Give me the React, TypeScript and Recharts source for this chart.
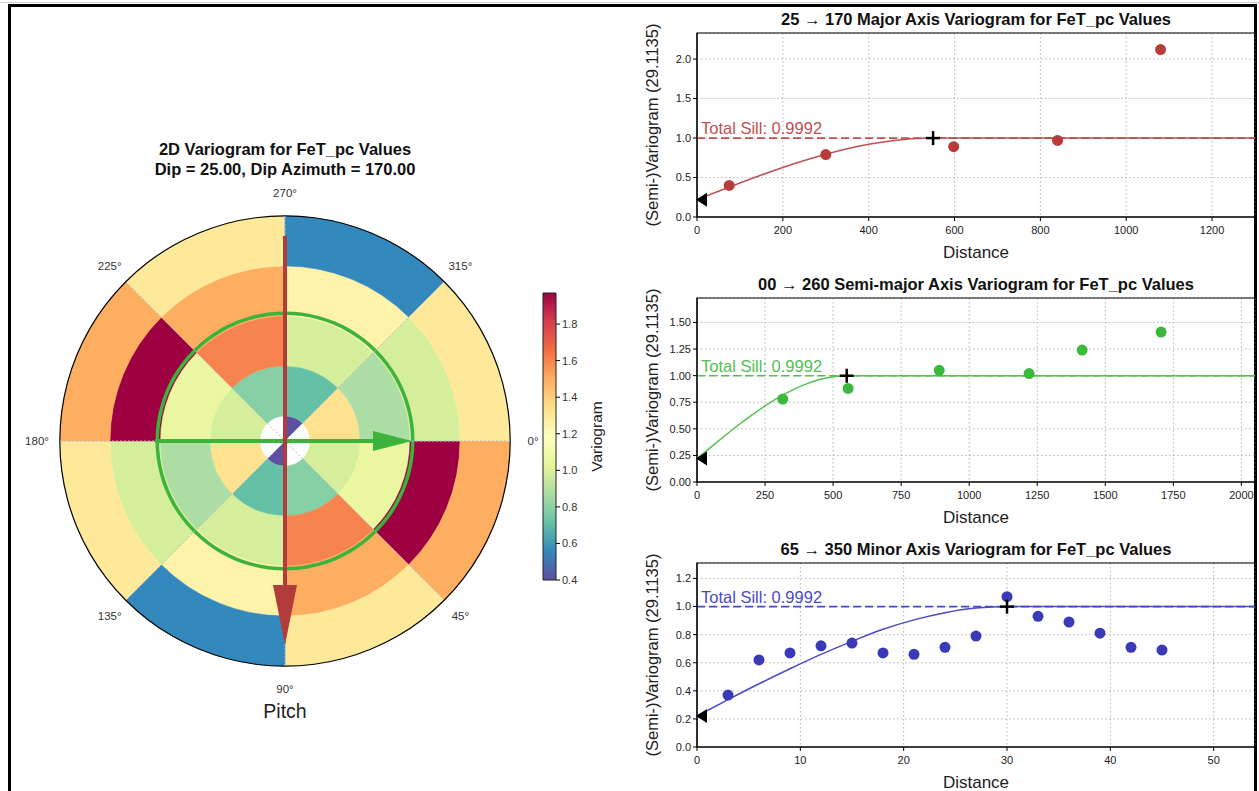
import React from "react";
import {
  CartesianGrid,
  Cell,
  ComposedChart,
  Line,
  Pie,
  PieChart,
  ReferenceArea,
  ReferenceLine,
  Scatter,
  XAxis,
  YAxis,
} from "recharts";

const FONT = "'Liberation Sans', Arial, sans-serif";

// ---- polar variogram map (sectors clockwise from 0deg, 45deg each, lag rings inner -> outer)
const angleLabels = ["0°", "45°", "90°", "135°", "180°", "225°", "270°", "315°"];
const ring1 = [NaN, NaN, 0.4, NaN, NaN, NaN, 0.4, NaN];
const ring2 = [0.98, 0.79, 0.71, 1.33, 0.98, 0.79, 0.71, 1.33];
const ring3 = [1.06, 1.6, 0.98, 0.87, 1.06, 1.6, 0.98, 0.87];
const ring4 = [1.97, 1.5, 1.25, 0.98, 1.97, 1.5, 1.25, 0.98];
const ring5 = [1.5, 1.3, 0.56, 1.3, 1.5, 1.3, 0.56, 1.3];
const rings = [ring1, ring2, ring3, ring4, ring5];

const colorbarTicks = [0.4, 0.6, 0.8, 1.0, 1.2, 1.4, 1.6, 1.8];
const VMIN = 0.4;
const VMAX = 1.97;

// search ellipse axes (lag units)
const majorShaft = [{ x: 0, y: 4.1 }, { x: 0, y: -3.2 }];
const majorTip = [{ x: 0, y: -4.08 }];
const semiShaft = [{ x: -2.6, y: 0 }, { x: 2.0, y: 0 }];
const semiTip = [{ x: 2.54, y: 0 }];

// ---- directional variograms
const SILL = 0.9992;

const majorLags = [75, 300, 598, 840, 1080];
const majorGamma = [0.4, 0.79, 0.89, 0.97, 2.12];
const majorModelH = [0, 50, 100, 150, 200, 250, 300, 350, 400, 450, 500, 550, 1300];
const majorModelG = [0.22, 0.326, 0.43, 0.531, 0.626, 0.715, 0.795, 0.864, 0.92, 0.963, 0.99, 1.0, 1.0];

const semiLags = [315, 555, 890, 1220, 1415, 1705];
const semiGamma = [0.78, 0.88, 1.05, 1.02, 1.24, 1.41];
const semiModelH = [0, 50, 100, 150, 200, 250, 300, 350, 400, 450, 500, 550, 2050];
const semiModelG = [0.22, 0.326, 0.43, 0.531, 0.626, 0.715, 0.795, 0.864, 0.92, 0.963, 0.99, 1.0, 1.0];

const minorLags = [3, 6, 9, 12, 15, 18, 21, 24, 27, 30, 33, 36, 39, 42, 45];
const minorGamma = [0.37, 0.62, 0.67, 0.72, 0.74, 0.67, 0.66, 0.71, 0.79, 1.07, 0.93, 0.89, 0.81, 0.71, 0.69];
const minorModelH = [0, 3, 6, 9, 12, 15, 18, 21, 24, 27, 30, 54];
const minorModelG = [0.22, 0.337, 0.45, 0.557, 0.659, 0.752, 0.838, 0.905, 0.956, 0.989, 1.0, 1.0];

const SPECTRAL_R = [
  "#5e4fa2", "#3288bd", "#66c2a5", "#abdda4", "#e6f598", "#ffffbf",
  "#fee08b", "#fdae61", "#f46d43", "#d53e4f", "#9e0142",
];

function hexToRgb(h: string) {
  const n = parseInt(h.slice(1), 16);
  return [(n >> 16) & 255, (n >> 8) & 255, n & 255];
}

function cmap(v: number) {
  if (!Number.isFinite(v)) return "#ffffff";
  let t = (v - VMIN) / (VMAX - VMIN);
  t = Math.max(0, Math.min(1, t));
  const s = t * (SPECTRAL_R.length - 1);
  const i = Math.min(Math.floor(s), SPECTRAL_R.length - 2);
  const f = s - i;
  const a = hexToRgb(SPECTRAL_R[i]);
  const b = hexToRgb(SPECTRAL_R[i + 1]);
  const c = a.map((x, k) => Math.round(x + (b[k] - x) * f));
  return `rgb(${c[0]},${c[1]},${c[2]})`;
}

const LAG_PX = 50;
const BOX = 540;
const LIM = BOX / 2 / LAG_PX;

const angleLabel = (p: any) => {
  const a = (-p.midAngle * Math.PI) / 180;
  const r = 248;
  return (
    <text
      x={p.cx + r * Math.cos(a)}
      y={p.cy + r * Math.sin(a)}
      textAnchor="middle"
      dominantBaseline="central"
      fontSize={11.5}
      fill="#333"
    >
      {p.name ?? p.payload?.name}
    </text>
  );
};

const downHead = (p: any) => (
  <polygon
    points={`${p.cx},${p.cy} ${p.cx - 12},${p.cy - 60} ${p.cx + 12},${p.cy - 60}`}
    fill="#b23b3b"
  />
);
const rightHead = (p: any) => (
  <polygon
    points={`${p.cx},${p.cy} ${p.cx - 39},${p.cy - 10} ${p.cx - 39},${p.cy + 10}`}
    fill="#3cb43c"
  />
);
const noShape = () => <g />;

function PolarPanel() {
  const sectors = (vals: number[]) => vals.map((v, i) => ({ name: angleLabels[i], value: 1, v }));
  const grid = [0, 45, 90, 135].map((deg) => {
    const a = (deg * Math.PI) / 180;
    return [
      { x: -4.5 * Math.cos(a), y: -4.5 * Math.sin(a) },
      { x: 4.5 * Math.cos(a), y: 4.5 * Math.sin(a) },
    ];
  });
  return (
    <>
      <div style={{ position: "absolute", left: 85, top: 139, width: 400, textAlign: "center", fontWeight: 700, fontSize: 16.5, lineHeight: "20px" }}>
        2D Variogram for FeT_pc Values
        <br />
        Dip = 25.00, Dip Azimuth = 170.00
      </div>
      <div style={{ position: "absolute", left: 15, top: 171, width: BOX, height: BOX }}>
        <PieChart width={BOX} height={BOX} margin={{ top: 0, right: 0, bottom: 0, left: 0 }}>
          {rings.map((ring, k) => (
            <Pie
              key={k}
              data={sectors(ring)}
              dataKey="value"
              cx={BOX / 2}
              cy={BOX / 2}
              innerRadius={k === 0 ? 0 : (k - 0.5) * LAG_PX}
              outerRadius={(k + 0.5) * LAG_PX}
              startAngle={0}
              endAngle={-360}
              isAnimationActive={false}
            >
              {ring.map((v, i) => (
                <Cell key={i} fill={cmap(v)} stroke={cmap(v)} strokeWidth={0.5} />
              ))}
            </Pie>
          ))}
          <Pie
            data={[{ value: 1 }]}
            dataKey="value"
            cx={BOX / 2}
            cy={BOX / 2}
            innerRadius={126}
            outerRadius={129.5}
            startAngle={0}
            endAngle={360}
            fill="#3cb43c"
            stroke="none"
            isAnimationActive={false}
          />
          <Pie
            data={[{ value: 1 }]}
            dataKey="value"
            cx={BOX / 2}
            cy={BOX / 2}
            innerRadius={224.6}
            outerRadius={225.8}
            startAngle={0}
            endAngle={360}
            fill="#000"
            stroke="none"
            isAnimationActive={false}
          />
          <Pie
            data={angleLabels.map((name) => ({ name, value: 1 }))}
            dataKey="value"
            cx={BOX / 2}
            cy={BOX / 2}
            innerRadius={225}
            outerRadius={225}
            startAngle={22.5}
            endAngle={-337.5}
            fill="none"
            stroke="none"
            label={angleLabel}
            labelLine={false}
            isAnimationActive={false}
          />
        </PieChart>
      </div>
      <div style={{ position: "absolute", left: 15, top: 171, width: BOX, height: BOX }}>
        <ComposedChart width={BOX} height={BOX} margin={{ top: 0, right: 0, bottom: 0, left: 0 }}>
          <XAxis type="number" dataKey="x" domain={[-LIM, LIM]} hide />
          <YAxis type="number" domain={[-LIM, LIM]} hide />
          {grid.map((seg, i) => (
            <ReferenceLine key={i} segment={seg} stroke="#b8b8c8" strokeDasharray="2 2" strokeWidth={1} />
          ))}
          <ReferenceLine segment={semiShaft} stroke="#3cb43c" strokeWidth={4} />
          <Scatter data={semiTip} dataKey="y" shape={rightHead} isAnimationActive={false} />
          <ReferenceLine segment={majorShaft} stroke="#b23b3b" strokeWidth={4} />
          <Scatter data={majorTip} dataKey="y" shape={downHead} isAnimationActive={false} />
        </ComposedChart>
      </div>
      <div style={{ position: "absolute", left: 185, top: 699, width: 200, textAlign: "center", fontSize: 19.5, lineHeight: "24px", color: "#222" }}>
        Pitch
      </div>
    </>
  );
}

function ColorBar() {
  return (
    <div style={{ position: "absolute", left: 530, top: 283, width: 100, height: 310 }}>
      <ComposedChart width={100} height={310} margin={{ top: 10, right: 14, bottom: 13, left: 13 }}>
        <XAxis type="number" dataKey="x" domain={[0, 1]} hide />
        <YAxis
          type="number"
          orientation="right"
          domain={[VMIN, VMAX]}
          ticks={colorbarTicks}
          interval={0}
          width={60}
          tickSize={4}
          stroke="#000"
          axisLine={false}
          tick={{ fontSize: 11, fill: "#333" }}
          tickFormatter={(v: number) => v.toFixed(1)}
          label={{ value: "Variogram", angle: -90, position: "insideRight", offset: 20, fontSize: 15.5, fill: "#222", style: { textAnchor: "middle" } }}
        />
        <Scatter data={[{ x: 0.5, y: 1 }]} dataKey="y" shape={noShape} isAnimationActive={false} />
        <ReferenceArea x1={0} x2={1} y1={VMIN} y2={VMAX} fill="url(#cbGrad)" fillOpacity={1} stroke="#222" strokeWidth={1} />
      </ComposedChart>
    </div>
  );
}

const dotShape = (fill: string) => (p: any) => <circle cx={p.cx} cy={p.cy} r={5.5} fill={fill} />;
const plusShape = (p: any) => (
  <g stroke="#000" strokeWidth={2.5}>
    <line x1={p.cx - 7} x2={p.cx + 7} y1={p.cy} y2={p.cy} />
    <line x1={p.cx} x2={p.cx} y1={p.cy - 7} y2={p.cy + 7} />
  </g>
);
const nuggetShape = (p: any) => (
  <polygon points={`${p.cx - 1},${p.cy} ${p.cx + 10},${p.cy - 7} ${p.cx + 10},${p.cy + 7}`} fill="#000" />
);

interface IVarioChart {
  title: string;
  top: number;
  color: string;
  lineColor: string;
  lags: number[];
  gamma: number[];
  modelH: number[];
  modelG: number[];
  xMax: number;
  xTicks: number[];
  yMax: number;
  yTicks: number[];
  yDigits: number;
  range: number;
  nugget: number;
}

const VarioChart = (p: IVarioChart) => {
  const pts = p.lags.map((x, i) => ({ x, y: p.gamma[i] }));
  const model = p.modelH.map((x, i) => ({ x, y: p.modelG[i] }));
  return (
    <div style={{ position: "absolute", left: 630, top: p.top, width: 627, height: 262 }}>
      <div style={{ position: "absolute", left: 0, top: 0 }}>
        <ComposedChart width={627} height={262} margin={{ top: 33, right: 2, bottom: 0, left: 17 }}>
          <CartesianGrid stroke="#b5b5b5" strokeDasharray="1.5 2.5" />
          <XAxis
            type="number"
            dataKey="x"
            domain={[0, p.xMax]}
            ticks={p.xTicks}
            interval={0}
            height={45}
            tickSize={4}
            tickMargin={5}
            stroke="#000"
            tick={{ fontSize: 11, fill: "#222" }}
            label={{ value: "Distance", position: "insideBottom", offset: 4, fontSize: 17, fill: "#222" }}
          />
          <YAxis
            type="number"
            domain={[0, p.yMax]}
            ticks={p.yTicks}
            interval={0}
            width={50}
            tickSize={4}
            stroke="#000"
            tick={{ fontSize: 11, fill: "#222" }}
            tickFormatter={(v: number) => v.toFixed(p.yDigits)}
            label={{ value: "(Semi-)Variogram (29.1135)", angle: -90, position: "insideLeft", offset: 5, fontSize: 16.5, fill: "#222", style: { textAnchor: "middle" } }}
          />
          <ReferenceArea x1={0} x2={p.xMax} y1={0} y2={p.yMax} fill="none" stroke="#000" strokeWidth={1.2} />
          <ReferenceLine
            y={SILL}
            stroke={p.lineColor}
            strokeDasharray="8 4"
            strokeWidth={1.6}
            label={{ value: `Total Sill: ${SILL}`, position: "insideBottomLeft", offset: 4, fontSize: 16.5, fill: p.lineColor }}
          />
          <Line data={model} dataKey="y" type="monotone" stroke={p.lineColor} strokeWidth={1.5} dot={false} activeDot={false} isAnimationActive={false} />
          <Scatter data={pts} dataKey="y" fill={p.color} shape={dotShape(p.color)} isAnimationActive={false} />
          <Scatter data={[{ x: p.range, y: SILL }]} dataKey="y" shape={plusShape} isAnimationActive={false} />
          <Scatter data={[{ x: 0, y: p.nugget }]} dataKey="y" shape={nuggetShape} isAnimationActive={false} />
        </ComposedChart>
      </div>
      <div style={{ position: "absolute", left: 67, top: 10, width: 558, textAlign: "center", fontWeight: 700, fontSize: 16.5, lineHeight: "19px", whiteSpace: "nowrap", background: "transparent" }}>
        {p.title}
      </div>
    </div>
  );
};

export default function App() {
  return (
    <div style={{ position: "absolute", left: 0, top: 0, width: 1259, height: 791, background: "#fff", overflow: "hidden", fontFamily: FONT, color: "#111" }}>
      <svg width={1} height={1} style={{ position: "absolute", left: 0, top: 0 }}>
        <defs>
          <linearGradient id="cbGrad" x1="0" y1="1" x2="0" y2="0">
            {SPECTRAL_R.map((c, i) => (
              <stop key={i} offset={i / (SPECTRAL_R.length - 1)} stopColor={c} />
            ))}
          </linearGradient>
        </defs>
      </svg>
      <div style={{ position: "absolute", left: 0, top: 2, width: 1259, height: 1, background: "#d0d0d0" }} />
      <div style={{ position: "absolute", left: 8, top: 4, width: 1249, height: 800, borderTop: "3px solid #000", borderLeft: "3px solid #000", borderRight: "3px solid #000", boxSizing: "border-box" }} />
      <PolarPanel />
      <ColorBar />
      <VarioChart
        title="25 → 170 Major Axis Variogram for FeT_pc Values"
        top={0}
        color="#b93c3c"
        lineColor="#c25050"
        lags={majorLags}
        gamma={majorGamma}
        modelH={majorModelH}
        modelG={majorModelG}
        xMax={1300}
        xTicks={[0, 200, 400, 600, 800, 1000, 1200]}
        yMax={2.33}
        yTicks={[0, 0.5, 1.0, 1.5, 2.0]}
        yDigits={1}
        range={550}
        nugget={0.22}
      />
      <VarioChart
        title="00 → 260 Semi-major Axis Variogram for FeT_pc Values"
        top={265}
        color="#3cb83c"
        lineColor="#52c052"
        lags={semiLags}
        gamma={semiGamma}
        modelH={semiModelH}
        modelG={semiModelG}
        xMax={2050}
        xTicks={[0, 250, 500, 750, 1000, 1250, 1500, 1750, 2000]}
        yMax={1.73}
        yTicks={[0, 0.25, 0.5, 0.75, 1.0, 1.25, 1.5]}
        yDigits={2}
        range={550}
        nugget={0.22}
      />
      <VarioChart
        title="65 → 350 Minor Axis Variogram for FeT_pc Values"
        top={530}
        color="#3a3ab8"
        lineColor="#4a4ac8"
        lags={minorLags}
        gamma={minorGamma}
        modelH={minorModelH}
        modelG={minorModelG}
        xMax={54}
        xTicks={[0, 10, 20, 30, 40, 50]}
        yMax={1.31}
        yTicks={[0, 0.2, 0.4, 0.6, 0.8, 1.0, 1.2]}
        yDigits={1}
        range={30}
        nugget={0.22}
      />
    </div>
  );
}
